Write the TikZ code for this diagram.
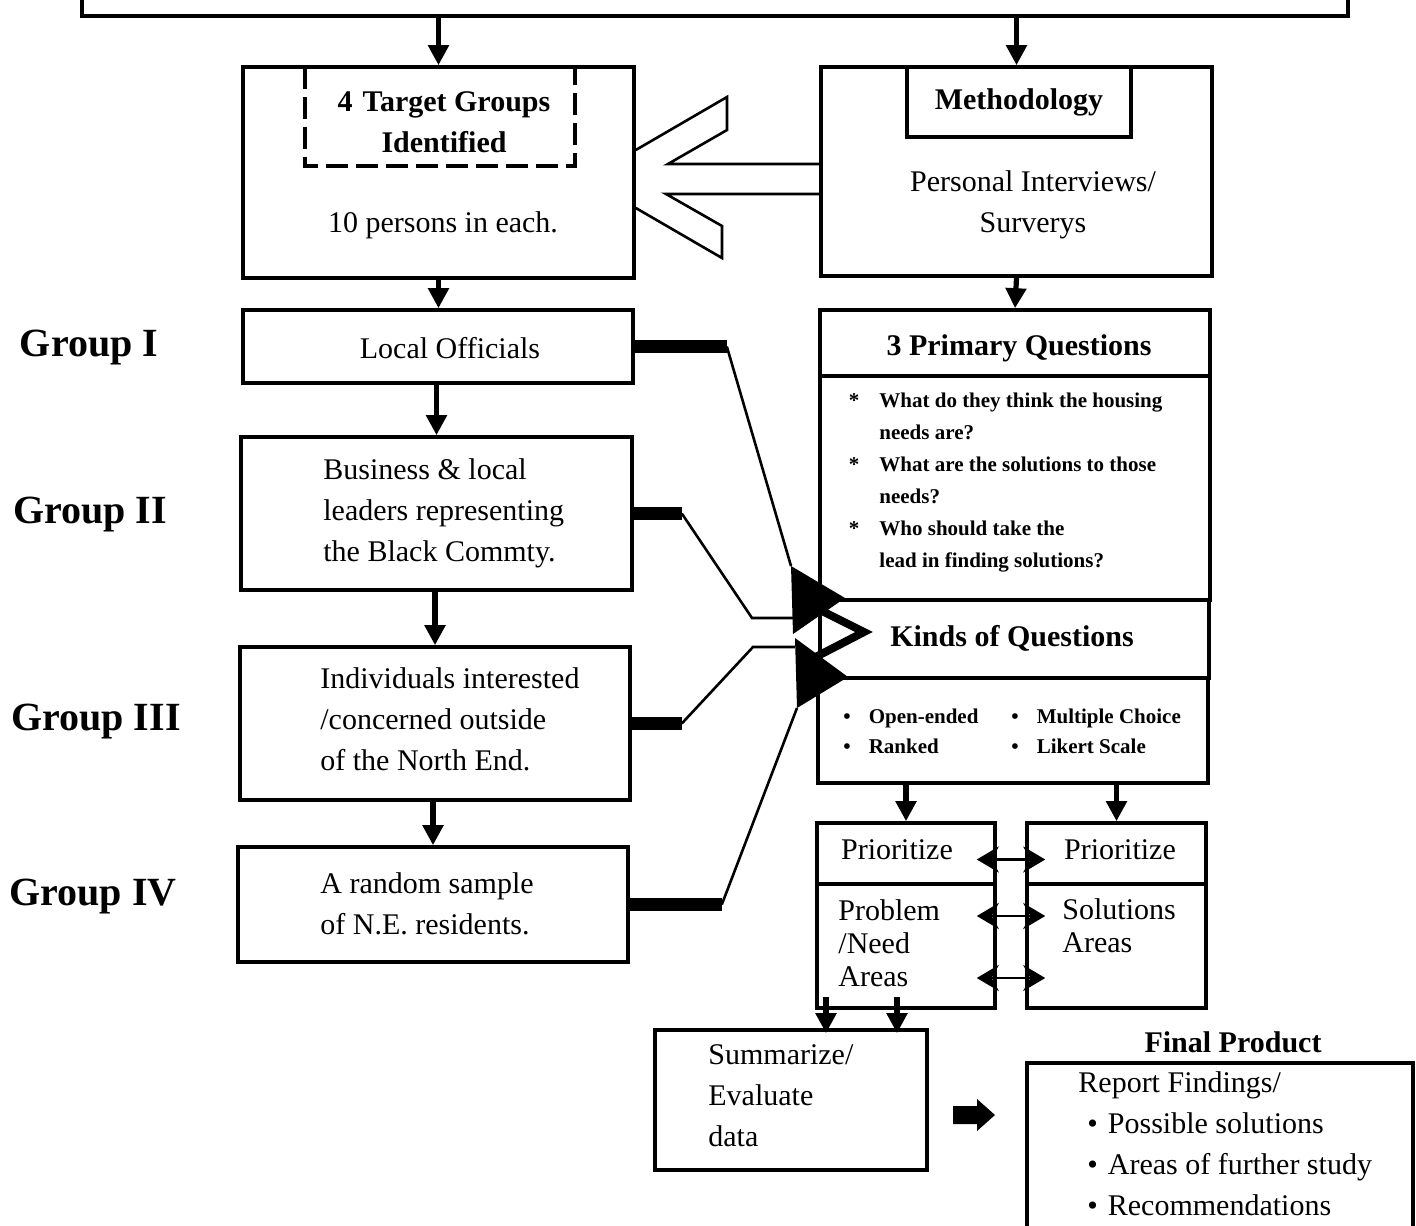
\documentclass[tikz,border=0pt]{standalone}
\usepackage{fontspec}
\setmainfont{Liberation Serif}
\usepackage{tikz}
\usetikzlibrary{positioning}
\usetikzlibrary{fit}
\usetikzlibrary{calc}
\usetikzlibrary{arrows.meta}

\newcommand{\boxfont}{\fontsize{15}{20.5}\selectfont}
\newcommand{\groupfont}{\fontsize{20}{24}\selectfont\bfseries}
\newcommand{\askfont}{\fontsize{10.5}{16}\selectfont\bfseries}
\newcommand{\kindfont}{\fontsize{10.5}{15}\selectfont\bfseries}

\begin{document}
\begin{tikzpicture}[x=0.5pt,y=-0.5pt,
    frame/.style={draw, line width=1.8pt, inner sep=0pt},
    flow/.style={line width=2.6pt, -{Triangle[length=10pt,width=10pt]}},
    twoway/.style={line width=1.4pt, {Stealth[length=11pt,width=13pt]}-{Stealth[length=11pt,width=13pt]}},
    wire/.style={line width=1.3pt},
    bar/.style={line width=6.5pt},
    txt/.style={inner sep=0pt, font=\boxfont}]

  \useasboundingbox (0,0) rectangle (1416,1225);

  % top box, cut off by the page
  \node[frame, fit={(82,-30) (1348,16)}] (top) {};

  % target groups
  \node[frame, fit={(243,67) (634,278)}] (target) {};
  \draw[line width=1.8pt, dash pattern=on 11pt off 4pt] (305,67) -- (305,166) -- (575,166) -- (575,67);
  \node[txt, font=\boxfont\bfseries, align=center] (tgtitle) at (444,122) {4\hspace{5pt}Target Groups\\Identified};
  \node[txt] (tgnote) at (443,225) {10 persons in each.};

  % methodology
  \node[frame, fit={(821,67) (1212,276)}] (meth) {};
  \node[frame, fit={(907,67) (1131,137)}] (methhead) {};
  \node[txt, font=\boxfont\bfseries] (methtitle) at (methhead.center) {Methodology};
  \node[txt, align=center] (methnote) at (1033,205) {Personal Interviews/\\Surverys};

  % hollow arrow
  \draw[wire] (meth.west |- 0,164) -- (668,164) -- (727,130) -- (727,97) -- (target.east |- 0,150);
  \draw[wire] (meth.west |- 0,194) -- (666,194) -- (722,226) -- (722,258) -- (target.east |- 0,208);

  % groups
  \node[txt, font=\groupfont] (g1) at (89,348) {Group I};
  \node[txt, font=\groupfont] (g2) at (90,515) {Group II};
  \node[txt, font=\groupfont] (g3) at (96,722) {Group III};
  \node[txt, font=\groupfont] (g4) at (93,897) {Group IV};

  \node[frame, fit={(243,310) (633,383)}] (local) {};
  \node[txt] (localtxt) at (450,348) {Local Officials};
  \node[frame, fit={(241,437) (632,590)}] (business) {};
  \node[txt, anchor=west, align=left] (businesstxt) at (323,513) {Business \& local\\leaders representing\\the Black Commty.};
  \node[frame, fit={(240,647) (630,800)}] (indiv) {};
  \node[txt, anchor=west, align=left] (indivtxt) at (320,719) {Individuals interested\\/concerned outside\\of the North End.};
  \node[frame, fit={(238,847) (628,962)}] (random) {};
  \node[txt, anchor=west, align=left] (randomtxt) at (320,904) {A random sample\\of N.E. residents.};

  \draw[flow] (target.north |- top.south) -- (target.north);
  \draw[flow] (meth.north |- top.south) -- (meth.north);
  \draw[flow] (target.south) -- (target.south |- local.north);
  \draw[flow] (business.north |- local.south) -- (business.north);
  \draw[flow] (indiv.north |- business.south) -- (indiv.north);
  \draw[flow] (random.north |- indiv.south) -- (random.north);

  % questions column
  \node[frame, fit={(820,310) (1210,376)}] (primary) {};
  \node[txt, font=\boxfont\bfseries] (primarytxt) at (1019,348) {3 Primary Questions};
  \node[frame, fit={(820,376) (1210,600)}] (asks) {};
  \node[txt, font=\askfont, anchor=west, align=left] (askstxt) at (879,483)
    {\llap{*\hspace{10pt}}What do they think the housing\\needs are?\\
     \llap{*\hspace{10pt}}What are the solutions to those\\needs?\\
     \llap{*\hspace{10pt}}Who should take the\\lead in finding solutions?};
  \node[frame, fit={(820,600) (1209,678)}] (kinds) {};
  \node[frame, fit={(818,678) (1208,783)}] (types) {};
  \node[txt, font=\kindfont, anchor=west, align=left] (typesl) at (843,731)
    {\textbullet\hspace*{9pt}Open-ended\\\textbullet\hspace*{9pt}Ranked};
  \node[txt, font=\kindfont, anchor=west, align=left] (typesr) at (1011,731)
    {\textbullet\hspace*{9pt}Multiple Choice\\\textbullet\hspace*{9pt}Likert Scale};
  \draw[flow] (meth.south) -- (primary.north);

  % merging arrow heads
  \coordinate (upA) at (791,566);
  \coordinate (upB) at (793,634);
  \coordinate (upT) at (845,598);
  \coordinate (loA) at (795,638);
  \coordinate (loB) at (797,708);
  \coordinate (loT) at (848,677);
  \draw[line width=4pt, line join=miter] (806,603) -- (864,632) -- (806,662);
  \fill (upA) -- (upT) -- (upB) -- cycle;
  \fill (loA) -- (loT) -- (loB) -- cycle;
  \node[txt, font=\boxfont\bfseries] (kindstxt) at (1012,638) {Kinds of Questions};

  % group connectors
  \draw[bar] (local.east) -- ++(92,0) coordinate (l1);
  \draw[wire] (l1) -- (upA);
  \draw[bar] (business.east) -- ++(48,0) coordinate (b1);
  \draw[wire] (b1) -- (752,618) -- (upB |- 0,618);
  \draw[bar] (indiv.east) -- ++(50,0) coordinate (i1);
  \draw[wire] (i1) -- (753,647) -- (loA |- 0,647);
  \draw[bar] (random.east) -- ++(92,0) coordinate (r1);
  \draw[wire] (r1) -- (loB);

  % prioritize
  \node[frame, fit={(817,823) (995,884)}] (pleft) {};
  \node[frame, fit={(817,884) (995,1008)}] (pleftlow) {};
  \node[frame, fit={(1027,823) (1206,884)}] (pright) {};
  \node[frame, fit={(1027,884) (1206,1008)}] (prightlow) {};
  \node[txt] (plefttxt) at (897,850) {Prioritize};
  \node[txt] (prighttxt) at (1120,850) {Prioritize};
  \node[txt, anchor=west, align=left, font=\fontsize{15}{16.5}\selectfont] (problem) at (838,943) {Problem\\/Need\\Areas};
  \node[txt, anchor=west, align=left, font=\fontsize{15}{16.5}\selectfont] (solutions) at (1062,926) {Solutions\\Areas};
  \draw[flow] (pleft.north |- types.south) -- (pleft.north);
  \draw[flow] (pright.north |- types.south) -- (pright.north);
  \draw[twoway] ($(pleft.east)+(-20,6)$) -- ($(pright.west)+(20,6)$);
  \draw[twoway] ($(pleftlow.east)+(-20,-30)$) -- ($(prightlow.west)+(20,-30)$);
  \draw[twoway] ($(pleftlow.east)+(-20,32)$) -- ($(prightlow.west)+(20,32)$);

  % summary and final product
  \node[frame, fit={(655,1030) (927,1170)}] (summ) {};
  \node[txt, anchor=west, align=left] (summtxt) at (708,1096) {Summarize/\\Evaluate\\data};
  \draw[flow] ($(pleftlow.south)+(-80,-13)$) -- ($(pleftlow.south |- summ.north)+(-80,5)$);
  \draw[flow] ($(pleftlow.south)+(-9,-13)$) -- ($(pleftlow.south |- summ.north)+(-9,5)$);
  \fill (953,1106) -- (977,1106) -- (977,1099) -- (995,1115) -- (977,1131) -- (977,1124) -- (953,1124) -- cycle;

  \node[txt, font=\boxfont\bfseries] (fptitle) at (1233,1042) {Final Product};
  \node[frame, fit={(1027,1063) (1413,1260)}] (final) {};
  \node[txt, anchor=west, align=left] (report) at (1078,1144)
    {Report Findings/\\
     \hspace*{4.5pt}\textbullet\hspace*{5pt}Possible solutions\\
     \hspace*{4.5pt}\textbullet\hspace*{5pt}Areas of further study\\
     \hspace*{4.5pt}\textbullet\hspace*{5pt}Recommendations};

\end{tikzpicture}
\end{document}
